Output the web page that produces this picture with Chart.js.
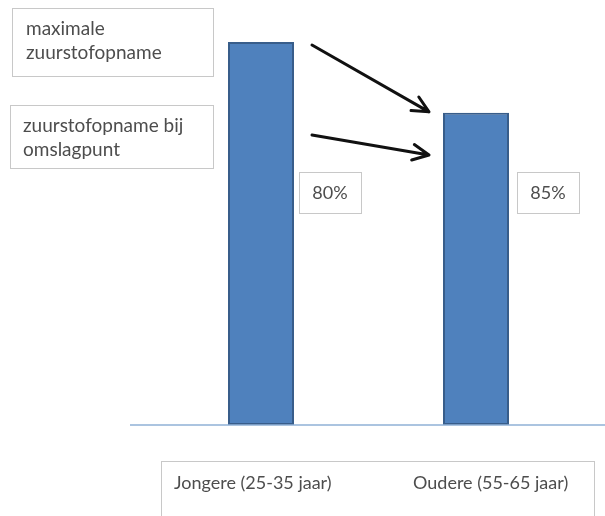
<!DOCTYPE html>
<html>
<head>
<meta charset="utf-8">
<script src="https://cdn.jsdelivr.net/npm/chart.js@4/dist/chart.umd.min.js"></script>
<style>
  html, body { margin: 0; padding: 0; background: #fff; }
  #wrap { width: 605px; height: 516px; }
</style>
</head>
<body>
<div id="wrap"><canvas id="c" width="605" height="516"></canvas></div>
<script>
// Categories and the relative oxygen uptake (maximal = 100 for the younger group)
const categories = ['Jongere (25-35 jaar)', 'Oudere (55-65 jaar)'];
const maxUptake = [100, 81.5];
// Uptake at the turning point as a share of the maximum
const turnPointShare = ['80%', '85%'];
const boxTexts = [['maximale', 'zuurstofopname'], ['zuurstofopname bij', 'omslagpunt']];

const FONT = 'Lato, "Open Sans", sans-serif';
const TEXT = '#4d4d4d';
const BOX = '#c8c8c8';

function box(ctx, x, y, w, h) {
  ctx.save();
  ctx.fillStyle = '#fff';
  ctx.fillRect(x, y, w, h);
  ctx.strokeStyle = BOX;
  ctx.lineWidth = 1;
  ctx.strokeRect(x + 0.5, y + 0.5, w, h);
  ctx.restore();
}

function arrow(ctx, x1, y1, x2, y2) {
  const a = Math.atan2(y2 - y1, x2 - x1);
  const L = 18, spread = 0.45;
  ctx.save();
  ctx.strokeStyle = '#111';
  ctx.lineWidth = 3;
  ctx.lineCap = 'round';
  ctx.lineJoin = 'round';
  ctx.beginPath();
  ctx.moveTo(x1, y1);
  ctx.lineTo(x2, y2);
  ctx.moveTo(x2 - L * Math.cos(a - spread), y2 - L * Math.sin(a - spread));
  ctx.lineTo(x2, y2);
  ctx.lineTo(x2 - L * Math.cos(a + spread), y2 - L * Math.sin(a + spread));
  ctx.stroke();
  ctx.restore();
}

const annotations = {
  id: 'annotations',
  afterDatasetsDraw(chart) {
    const ctx = chart.ctx;
    const y = chart.scales.y;
    const bars = chart.getDatasetMeta(0).data;
    const base = y.getPixelForValue(0);

    // baseline across the plot
    ctx.save();
    ctx.strokeStyle = '#8fb0d6';
    ctx.lineWidth = 1.5;
    ctx.beginPath();
    ctx.moveTo(130, base);
    ctx.lineTo(605, base);
    ctx.stroke();
    ctx.restore();

    // text boxes on the left
    ctx.save();
    ctx.font = '19px ' + FONT;
    ctx.textBaseline = 'middle';
    box(ctx, 12, 8, 201, 68);
    ctx.fillStyle = TEXT;
    ctx.fillText(boxTexts[0][0], 26, 29);
    ctx.fillText(boxTexts[0][1], 26, 53);
    box(ctx, 10, 105, 203, 63);
    ctx.fillStyle = TEXT;
    ctx.fillText(boxTexts[1][0], 23, 126);
    ctx.fillText(boxTexts[1][1], 23, 150);
    ctx.restore();

    // percentage boxes beside each bar
    const gap = [5, 8];
    ctx.save();
    ctx.font = '18px ' + FONT;
    ctx.textAlign = 'center';
    ctx.textBaseline = 'middle';
    bars.forEach((b, i) => {
      const right = b.x + b.width / 2;
      const bx = right + gap[i], bw = 62;
      box(ctx, bx, 172, bw, 41);
      ctx.fillStyle = TEXT;
      ctx.fillText(turnPointShare[i], bx + bw / 2, 193);
    });
    ctx.restore();

    // arrows from the first bar to the second
    const b1 = bars[0], b2 = bars[1];
    const r1 = b1.x + b1.width / 2, l2 = b2.x - b2.width / 2;
    arrow(ctx, r1 + 18, y.getPixelForValue(maxUptake[0]) + 3, l2 - 14, y.getPixelForValue(maxUptake[1]) - 1);
    arrow(ctx, r1 + 18, 135, l2 - 14, 155);

    // category labels box
    box(ctx, 161, 461, 433, 60);
    ctx.save();
    ctx.font = '18px ' + FONT;
    ctx.fillStyle = TEXT;
    ctx.textBaseline = 'middle';
    ctx.fillText(categories[0], 174, 483);
    ctx.fillText(categories[1], 413, 483);
    ctx.restore();
  }
};

new Chart(document.getElementById('c'), {
  type: 'bar',
  data: {
    labels: categories,
    datasets: [{
      data: maxUptake,
      backgroundColor: '#4f81bd',
      borderColor: '#385d8a',
      borderWidth: 2,
      borderSkipped: false,
      categoryPercentage: 1,
      barPercentage: 0.307
    }]
  },
  options: {
    responsive: false,
    animation: false,
    layout: { padding: { left: 153.5, right: 21.5, top: 42, bottom: 91 } },
    plugins: { legend: { display: false }, tooltip: { enabled: false } },
    scales: {
      x: { display: false },
      y: { display: false, min: 0, max: 100 }
    }
  },
  plugins: [annotations]
});
</script>
</body>
</html>
